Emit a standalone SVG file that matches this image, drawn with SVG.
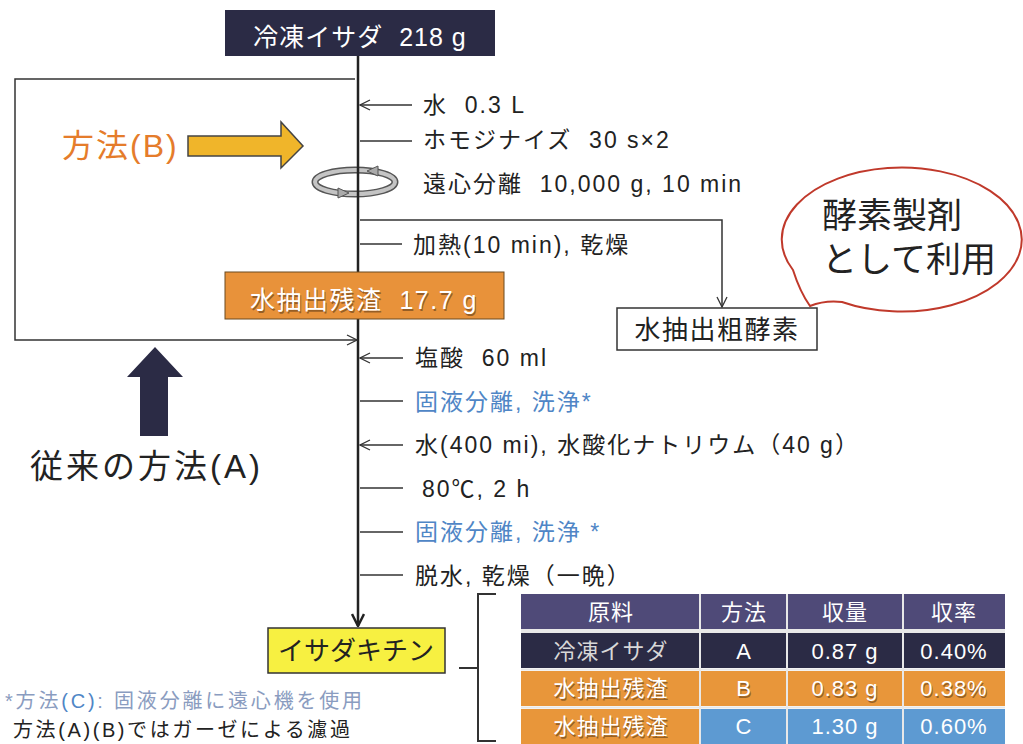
<svg xmlns="http://www.w3.org/2000/svg" width="1023" height="744" viewBox="0 0 1023 744">
<defs>
<style>
text{font-family:"Liberation Sans","Noto Sans CJK JP",sans-serif;white-space:pre;}
.lbl{font-size:23px;fill:#222;letter-spacing:2px;}
.blue{font-size:23px;fill:#4f86c6;letter-spacing:2px;}
.ln{stroke:#333;stroke-width:1.5;fill:none;}
.main{stroke:#222;stroke-width:2.5;fill:none;}
.wt{fill:#fff;font-size:22px;text-anchor:middle;letter-spacing:1px;}
.sh{fill:#000;opacity:0.35;font-size:22px;text-anchor:middle;letter-spacing:1px;}
</style>
<marker id="open" viewBox="0 0 12 12" refX="11" refY="6" markerWidth="12" markerHeight="12" markerUnits="userSpaceOnUse" orient="auto">
<path d="M1,1 L11,6 L1,11" fill="none" stroke="#333" stroke-width="1.3"/>
</marker>
<marker id="bold" viewBox="0 0 14 14" refX="13" refY="7" markerWidth="14" markerHeight="14" markerUnits="userSpaceOnUse" orient="auto">
<path d="M1,1 L13,7 L1,13" fill="none" stroke="#222" stroke-width="2.5"/>
</marker>
</defs>
<rect width="1023" height="744" fill="#fff"/>

<!-- centrifuge icon -->
<g id="centrifuge">
<ellipse cx="355" cy="182" rx="40" ry="12" fill="none" stroke="#555" stroke-width="7"/>
<ellipse cx="355" cy="182" rx="40" ry="12" fill="none" stroke="#c4c4c4" stroke-width="4"/>
<path d="M378,166 L367,171 L378,176 Z" fill="#aaa" stroke="#555" stroke-width="1"/>
<path d="M338,188 L349,193 L338,198 Z" fill="#aaa" stroke="#555" stroke-width="1"/>
</g>

<g id="connectors">
<line class="main" x1="358" y1="56" x2="358" y2="626" marker-end="url(#bold)"/>
<polyline class="ln" points="355,79 15,79 15,340 357,340" marker-end="url(#open)"/>
<line class="ln" x1="412" y1="105" x2="360" y2="105" marker-end="url(#open)"/>
<line class="ln" x1="360" y1="141" x2="412" y2="141"/>
<polyline class="ln" points="360,220 722,220 722,307" marker-end="url(#open)"/>
<line class="ln" x1="360" y1="244" x2="402" y2="244"/>
<line class="ln" x1="403" y1="358" x2="360" y2="358" marker-end="url(#open)"/>
<line class="ln" x1="360" y1="401" x2="403" y2="401"/>
<line class="ln" x1="403" y1="445" x2="360" y2="445" marker-end="url(#open)"/>
<line class="ln" x1="360" y1="488" x2="403" y2="488"/>
<line class="ln" x1="360" y1="532" x2="403" y2="532"/>
<line class="ln" x1="360" y1="575" x2="403" y2="575"/>
<polyline class="ln" points="496,594 478,594 478,741 496,741" style="stroke-width:2"/>
<line class="ln" x1="459" y1="668" x2="478" y2="668" style="stroke-width:2"/>
</g>

<g id="n-isada">
<rect x="225" y="10" width="270" height="46" fill="#2b2b45"/>
<text x="360" y="46" fill="#fff" font-size="25" letter-spacing="1" text-anchor="middle">冷凍イサダ  218 g</text>
</g>

<g id="steps">
<text class="lbl" x="423" y="113">水  0.3 L</text>
<text class="lbl" x="423" y="148">ホモジナイズ  30 s×2</text>
<text class="lbl" x="423" y="192">遠心分離  10,000 g, 10 min</text>
<text class="lbl" x="413" y="253">加熱(10 min), 乾燥</text>
<text class="lbl" x="415" y="366">塩酸  60 ml</text>
<text class="blue" x="415" y="410">固液分離, 洗浄*</text>
<text class="lbl" x="415" y="453">水(400 mi), 水酸化ナトリウム（40 g）</text>
<text class="lbl" x="422" y="497">80℃, 2 h</text>
<text class="blue" x="415" y="540">固液分離, 洗浄 *</text>
<text class="lbl" x="415" y="584">脱水, 乾燥（一晩）</text>
</g>

<g id="n-residue">
<rect x="225" y="272" width="279" height="47" fill="#e8923a" stroke="#6b4a20" stroke-width="1"/>
<text x="365" y="311" fill="#000" opacity="0.35" font-size="25" letter-spacing="1.5" text-anchor="middle">水抽出残渣  17.7 g</text>
<text x="364" y="309" fill="#fff" font-size="25" letter-spacing="1.5" text-anchor="middle">水抽出残渣  17.7 g</text>
</g>

<g id="n-crude">
<rect x="617" y="308" width="200" height="42" fill="#fff" stroke="#333" stroke-width="1.5"/>
<text x="717" y="339" fill="#222" font-size="26" letter-spacing="1.5" text-anchor="middle">水抽出粗酵素</text>
</g>

<g id="n-bubble">
<path d="M842,302 A120 72 0 1 0 793,270 Q800,292 810,306 Q825,300 842,302 Z" fill="#fff" stroke="#c0392b" stroke-width="2"/>
<text x="822" y="228" fill="#222" font-size="35">酵素製剤</text>
<text x="822" y="272" fill="#222" font-size="35">として利用</text>
</g>

<g id="n-methodB">
<text x="62" y="157" fill="#e57c2b" font-size="32" letter-spacing="2">方法(B)</text>
<path d="M188,136 L281,136 L281,122 L303,146 L281,168 L281,156 L188,156 Z" fill="#f0b52a" stroke="#444" stroke-width="1.5"/>
</g>

<g id="n-methodA">
<path d="M140,436 L140,377 L127,377 L155,347 L183,377 L168,377 L168,436 Z" fill="#2b2b45"/>
<text x="30" y="478" fill="#222" font-size="33" letter-spacing="3">従来の方法(A)</text>
</g>

<g id="n-chitin">
<rect x="268" y="628" width="177" height="45" fill="#f7f041" stroke="#333" stroke-width="1.5"/>
<text x="356" y="660" fill="#222" font-size="26" text-anchor="middle">イサダキチン</text>
</g>

<g id="table">
<rect x="521" y="594" width="484" height="35" fill="#4f4a78"/>
<rect x="521" y="633" width="484" height="35" fill="#2b2b45"/>
<rect x="521" y="671" width="484" height="35" fill="#e8963a"/>
<rect x="521" y="709" width="179" height="35" fill="#e8963a"/>
<rect x="700" y="709" width="305" height="35" fill="#5d9ad2"/>
<g stroke="#e8e8e8" stroke-width="2">
<line x1="700" y1="594" x2="700" y2="744"/>
<line x1="787" y1="594" x2="787" y2="744"/>
<line x1="903" y1="594" x2="903" y2="744"/>
<line x1="521" y1="631" x2="1005" y2="631" stroke-width="4"/>
<line x1="521" y1="669.5" x2="1005" y2="669.5"/>
<line x1="521" y1="707.5" x2="1005" y2="707.5"/>
</g>
<text class="wt" x="611" y="620">原料</text>
<text class="wt" x="744" y="620">方法</text>
<text class="wt" x="845" y="620">収量</text>
<text class="wt" x="954" y="620">収率</text>
<text class="wt" x="611" y="659" style="fill:#d8d8d8">冷凍イサダ</text>
<text class="wt" x="744" y="659">A</text>
<text class="wt" x="845" y="659">0.87 g</text>
<text class="wt" x="954" y="659">0.40%</text>
<text class="sh" x="612" y="698">水抽出残渣</text>
<text class="sh" x="745" y="698">B</text>
<text class="sh" x="846" y="698">0.83 g</text>
<text class="sh" x="955" y="698">0.38%</text>
<text class="wt" x="611" y="696">水抽出残渣</text>
<text class="wt" x="744" y="696">B</text>
<text class="wt" x="845" y="696">0.83 g</text>
<text class="wt" x="954" y="696">0.38%</text>
<text class="sh" x="612" y="736">水抽出残渣</text>
<text class="wt" x="611" y="734">水抽出残渣</text>
<text class="wt" x="744" y="734">C</text>
<text class="wt" x="845" y="734">1.30 g</text>
<text class="wt" x="954" y="734">0.60%</text>
</g>

<g id="footnote">
<text x="5" y="708" fill="#8a9cc0" font-size="20" letter-spacing="2.8">*方法<tspan fill="#4f86c6">(C)</tspan>: 固液分離に遠心機を使用</text>
<text x="13" y="737" fill="#222" font-size="20" letter-spacing="2.6">方法(A)(B)ではガーゼによる濾過</text>
</g>
</svg>
